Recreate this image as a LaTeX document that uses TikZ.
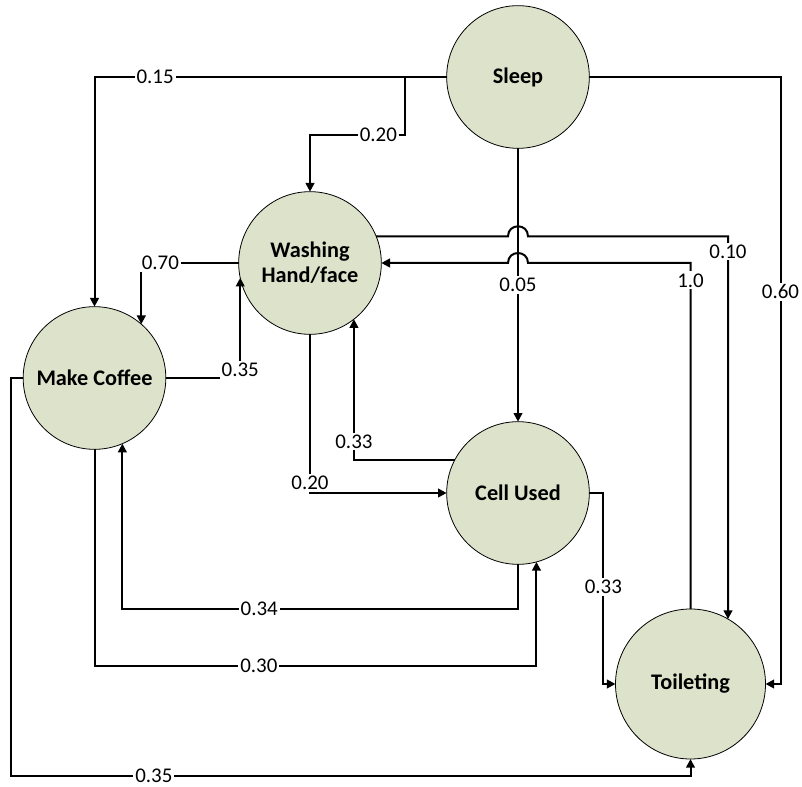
\documentclass[tikz,border=0pt]{standalone}
\usepackage{fontspec}
\setmainfont{Carlito}
\usetikzlibrary{arrows.meta,calc}
\definecolor{statefill}{HTML}{DDE2CB}
\tikzset{
  line/.style={draw=black, -{Triangle[length=6.5pt,width=6.5pt]}, line width=1.5pt},
  state/.style={
    circle,
    draw=black,
    fill=statefill,
    line width=0.6pt,
    inner sep=0pt,
    outer sep=0pt,
    minimum size=107pt,
    align=center,
    font=\bfseries\fontsize{16.7}{19}\selectfont
  },
  prob/.style={fill=white, inner sep=1.5pt, font=\fontsize{15.7}{18}\selectfont}
}
\begin{document}
\begin{tikzpicture}[x=0.75pt,y=-0.75pt]
  \path[use as bounding box] (0,0) rectangle (802,787);

  \node[state] (sleep) at (518,77) {Sleep};
  \node[state] (washing) at (310,263) {Washing\\Hand/face};
  \node[state] (coffee) at (94.5,378) {Make Coffee};
  \node[state] (cell) at (518,493) {Cell Used};
  \node[state, minimum size=112.5pt] (toilet) at (690.5,684) {Toileting};

  \coordinate (sleepsplit) at (405,77);

  % from Sleep
  \draw[line] (sleep.west) -| node[prob, pos=0.414] {0.15} (coffee.north);
  \draw[line] (sleepsplit) -- ++(0,58) -| node[prob, pos=0.14] {0.20} (washing.north);
  \draw[line] (sleep.east) -| node[prob, pos=0.677] {0.60} ($(toilet.east)+(15,0)$) -- (toilet.east);
  \draw[line] (sleep.south) -- node[prob, pos=0.5] {0.05} (cell.north);

  % lines hopping over Sleep -> Cell Used
  \draw[line] (washing.22) -- ($(sleep.south |- washing.22)+(-10,0)$)
    .. controls +(0,-13.3) and +(0,-13.3) .. ($(sleep.south |- washing.22)+(10,0)$)
    -| node[prob, pos=0.52] {0.10} (toilet.60);
  \draw[line] (toilet.north) |- node[prob, pos=0.475] {1.0} ($(sleep.south |- washing.east)+(10,0)$)
    .. controls +(0,-13.3) and +(0,-13.3) .. ($(sleep.south |- washing.east)+(-10,0)$)
    -- (washing.east);

  % Washing and Make Coffee
  \draw[line] (washing.west) -| node[prob, pos=0.402] {0.70} (coffee.49);
  \draw[line] (coffee.east) -| node[prob, pos=0.54] {0.35} (washing.192);
  \draw[line] (washing.south) |- node[prob, pos=0.468] {0.20} (cell.west);
  \draw[line] (cell.152) -| node[prob, pos=0.564] {0.33} (washing.308);

  % lower loops
  \draw[line] (cell.east) -- ++(14,0) |- node[prob, pos=0.246] {0.33} (toilet.west);
  \draw[line] (cell.south) -- ++(0,44.5) -| node[prob, pos=0.327] {0.34} (coffee.293);
  \draw[line] (coffee.south) -- ++(0,216.5) -| node[prob, pos=0.186] {0.30} (cell.285);
  \draw[line] (coffee.west) -- ++(-12,0) -- ++(0,397.5) -| node[prob, pos=0.105] {0.35} (toilet.south);
\end{tikzpicture}
\end{document}
